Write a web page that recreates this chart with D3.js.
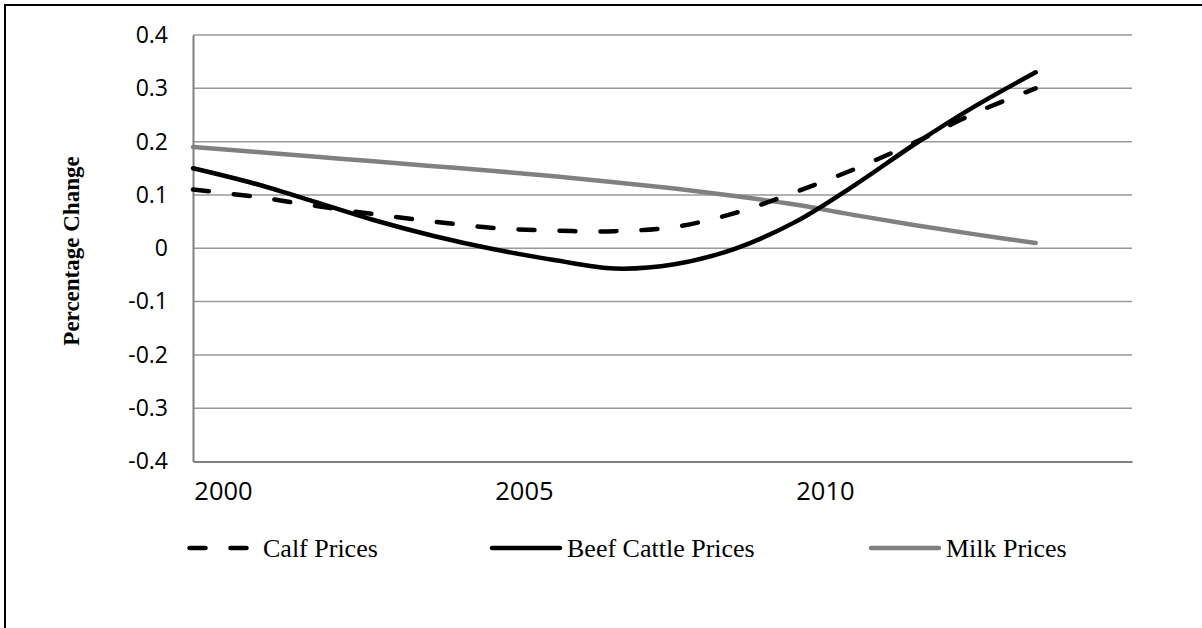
<!DOCTYPE html>
<html>
<head>
<meta charset="utf-8">
<script src="https://cdn.jsdelivr.net/npm/d3@7"></script>
<style>
  body { margin: 0; background: #fff; }
  svg { display: block; }
</style>
</head>
<body>
<svg id="chart"></svg>
<script>
const years = [2000, 2001, 2002, 2003, 2004, 2005, 2006, 2007, 2008, 2009, 2010, 2011, 2012, 2013, 2014];
const calfPrices = [0.110, 0.097, 0.080, 0.064, 0.050, 0.038, 0.033, 0.032, 0.040, 0.066, 0.105, 0.149, 0.199, 0.254, 0.300];
const beefPrices = [0.150, 0.122, 0.088, 0.053, 0.023, -0.002, -0.022, -0.038, -0.030, -0.001, 0.049, 0.119, 0.196, 0.267, 0.330];
const milkPrices = [0.190, 0.181, 0.172, 0.163, 0.154, 0.145, 0.135, 0.124, 0.112, 0.098, 0.082, 0.062, 0.043, 0.026, 0.010];
const yTicks = [0.4, 0.3, 0.2, 0.1, 0, -0.1, -0.2, -0.3, -0.4];
const xTicks = [2000, 2005, 2010];
const seriesNames = ["Calf Prices", "Beef Cattle Prices", "Milk Prices"];

const width = 1202, height = 628;
const svg = d3.select("#chart").attr("width", width).attr("height", height);

// outer frame (runs off the right/bottom edge like the reference)
svg.append("rect")
    .attr("x", 5).attr("y", 5)
    .attr("width", width + 10).attr("height", height + 10)
    .attr("fill", "none").attr("stroke", "#000").attr("stroke-width", 2);

const plotLeft = 193, plotRight = 1132, plotTop = 35, plotBottom = 461.5;
const x = d3.scaleLinear().domain([2000, 2015.6]).range([plotLeft, plotRight]);
const y = d3.scaleLinear().domain([-0.4, 0.4]).range([plotBottom, plotTop]);

// gridlines
svg.append("g")
    .selectAll("line")
    .data(yTicks.filter(d => d !== -0.4))
    .enter().append("line")
    .attr("x1", plotLeft).attr("x2", plotRight)
    .attr("y1", d => y(d)).attr("y2", d => y(d))
    .style("stroke", "#999")
    .style("stroke-width", 1.5);

// y axis
const yAxis = svg.append("g")
    .attr("transform", `translate(${plotLeft},0)`)
    .call(d3.axisLeft(y).tickValues(yTicks).tickSize(0).tickPadding(25)
        .tickFormat(d => d === 0 ? "0" : d.toFixed(1)));
yAxis.select(".domain").style("stroke", "#808080").style("stroke-width", 2);
yAxis.selectAll("text")
    .attr("font-family", "'Open Sans', sans-serif")
    .attr("font-size", 23)
    .attr("fill", "#000");

// x axis
const xAxis = svg.append("g")
    .attr("transform", `translate(0,${plotBottom})`)
    .call(d3.axisBottom(x).tickValues(xTicks).tickSize(0).tickPadding(20).tickFormat(d3.format("d")));
xAxis.select(".domain").style("stroke", "#808080").style("stroke-width", 2);
xAxis.selectAll("text")
    .attr("dx", 30)
    .attr("font-family", "'Open Sans', sans-serif")
    .attr("font-size", 25.5)
    .attr("fill", "#000");

// y title
svg.append("text")
    .attr("transform", "translate(79,251) rotate(-90)")
    .attr("text-anchor", "middle")
    .attr("font-family", "'Liberation Serif', 'Times New Roman', serif")
    .attr("font-weight", "bold")
    .attr("font-size", 23)
    .text("Percentage Change");

const line = d3.line()
    .x((d, i) => x(years[i]))
    .y(d => y(d))
    .curve(d3.curveCatmullRom.alpha(0.5));

const styles = [
    { color: "#000", dash: "16,25" },
    { color: "#000", dash: null },
    { color: "#808080", dash: null }
];
const allSeries = [calfPrices, beefPrices, milkPrices];

// draw milk first, then beef, then calf on top
[2, 1, 0].forEach(k => {
    svg.append("path")
        .datum(allSeries[k])
        .attr("d", line)
        .attr("fill", "none")
        .attr("stroke", styles[k].color)
        .attr("stroke-width", 4.5)
        .attr("stroke-linecap", "round")
        .attr("stroke-dasharray", styles[k].dash);
});

// legend
const legendY = 548;
const legendX = [189.5, 492, 871];
const legend = svg.append("g")
    .selectAll("g")
    .data(seriesNames)
    .enter().append("g")
    .attr("transform", (d, i) => `translate(${legendX[i]},${legendY})`);

legend.append("line")
    .attr("x1", 0).attr("x2", (d, i) => i === 0 ? 58 : 68)
    .attr("y1", 0).attr("y2", 0)
    .attr("stroke", (d, i) => styles[i].color)
    .attr("stroke-width", 4.5)
    .attr("stroke-linecap", "round")
    .attr("stroke-dasharray", (d, i) => styles[i].dash);

legend.append("text")
    .attr("x", (d, i) => i === 0 ? 73.5 : 75)
    .attr("y", 0)
    .attr("dy", "0.35em")
    .attr("font-family", "'Liberation Serif', 'Times New Roman', serif")
    .attr("font-size", 26)
    .text(d => d);
</script>
</body>
</html>
